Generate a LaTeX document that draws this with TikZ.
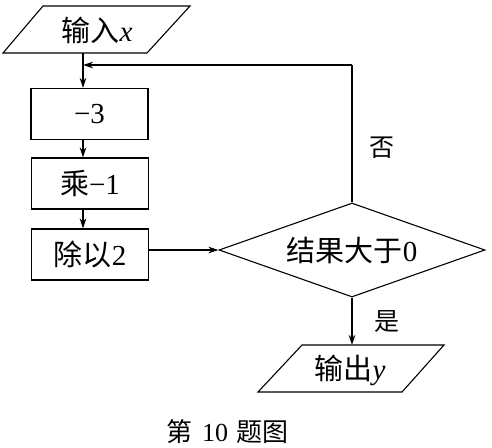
\documentclass[tikz,border=0pt]{standalone}
\usepackage{fontspec}
\setmainfont{Liberation Serif}
\newfontfamily\cjk{Noto Sans CJK SC}
\usetikzlibrary{shapes.geometric,arrows.meta}
\begin{document}
\begin{tikzpicture}[x=1pt,y=-1pt, line width=1.1pt,
  box/.style={draw, minimum width=117pt, minimum height=51pt, inner sep=0pt, font=\fontsize{29}{31}\selectfont},
  arr/.style={-{Stealth[length=10pt,width=6.5pt]}},
  lbl/.style={font=\fontsize{29}{31}\selectfont, inner sep=0pt},
  small/.style={font=\fontsize{25}{27}\selectfont, inner sep=0pt}]
\useasboundingbox (0,0) rectangle (492,447);
% input
\draw (3,53) -- (43,6) -- (190,6) -- (147,53) -- cycle;
\node[lbl] (in) at (97,30) {{\cjk 输入}\textit{x}};
\coordinate (inb) at (83,53);
% boxes
\node[box] (s1) at (89.5,114) {−3};
\node[box] (s2) at (90,183.5) {{\cjk 乘}−1};
\node[box] (s3) at (90,254.5) {{\cjk 除以}2};
% decision
\node[draw, diamond, shape aspect=2.83, minimum width=266pt, minimum height=94pt, inner sep=0pt, lbl] (d) at (352,250) {{\cjk 结果大于}0};
% output
\draw (258,392) -- (302,345) -- (444,345) -- (402,392) -- cycle;
\node[lbl] (out) at (350,370) {{\cjk 输出}\textit{y}};
\coordinate (outt) at (352,345);
% connectors
\coordinate (j) at (83,65);
\coordinate (c) at (352,65);
\draw[arr] (inb) -- (inb |- s1.north);
\draw[arr] (inb |- s1.south) -- (inb |- s2.north);
\draw[arr] (inb |- s2.south) -- (inb |- s3.north);
\draw[arr] (s3.east |- d.west) -- (d.west);
\draw (d.north) -- (c);
\draw[arr] (c) -- (j);
\draw[arr] (d.south) -- (outt);
% labels
\node[small] (no) at (382,148) {\cjk 否};
\node[small] (yes) at (387,322) {\cjk 是};
\node[font=\fontsize{26}{28}\selectfont, inner sep=0pt] (cap) at (227,432) {{\cjk 第}\hspace{10pt}10\hspace{8pt}{\cjk 题图}};
\end{tikzpicture}
\end{document}
